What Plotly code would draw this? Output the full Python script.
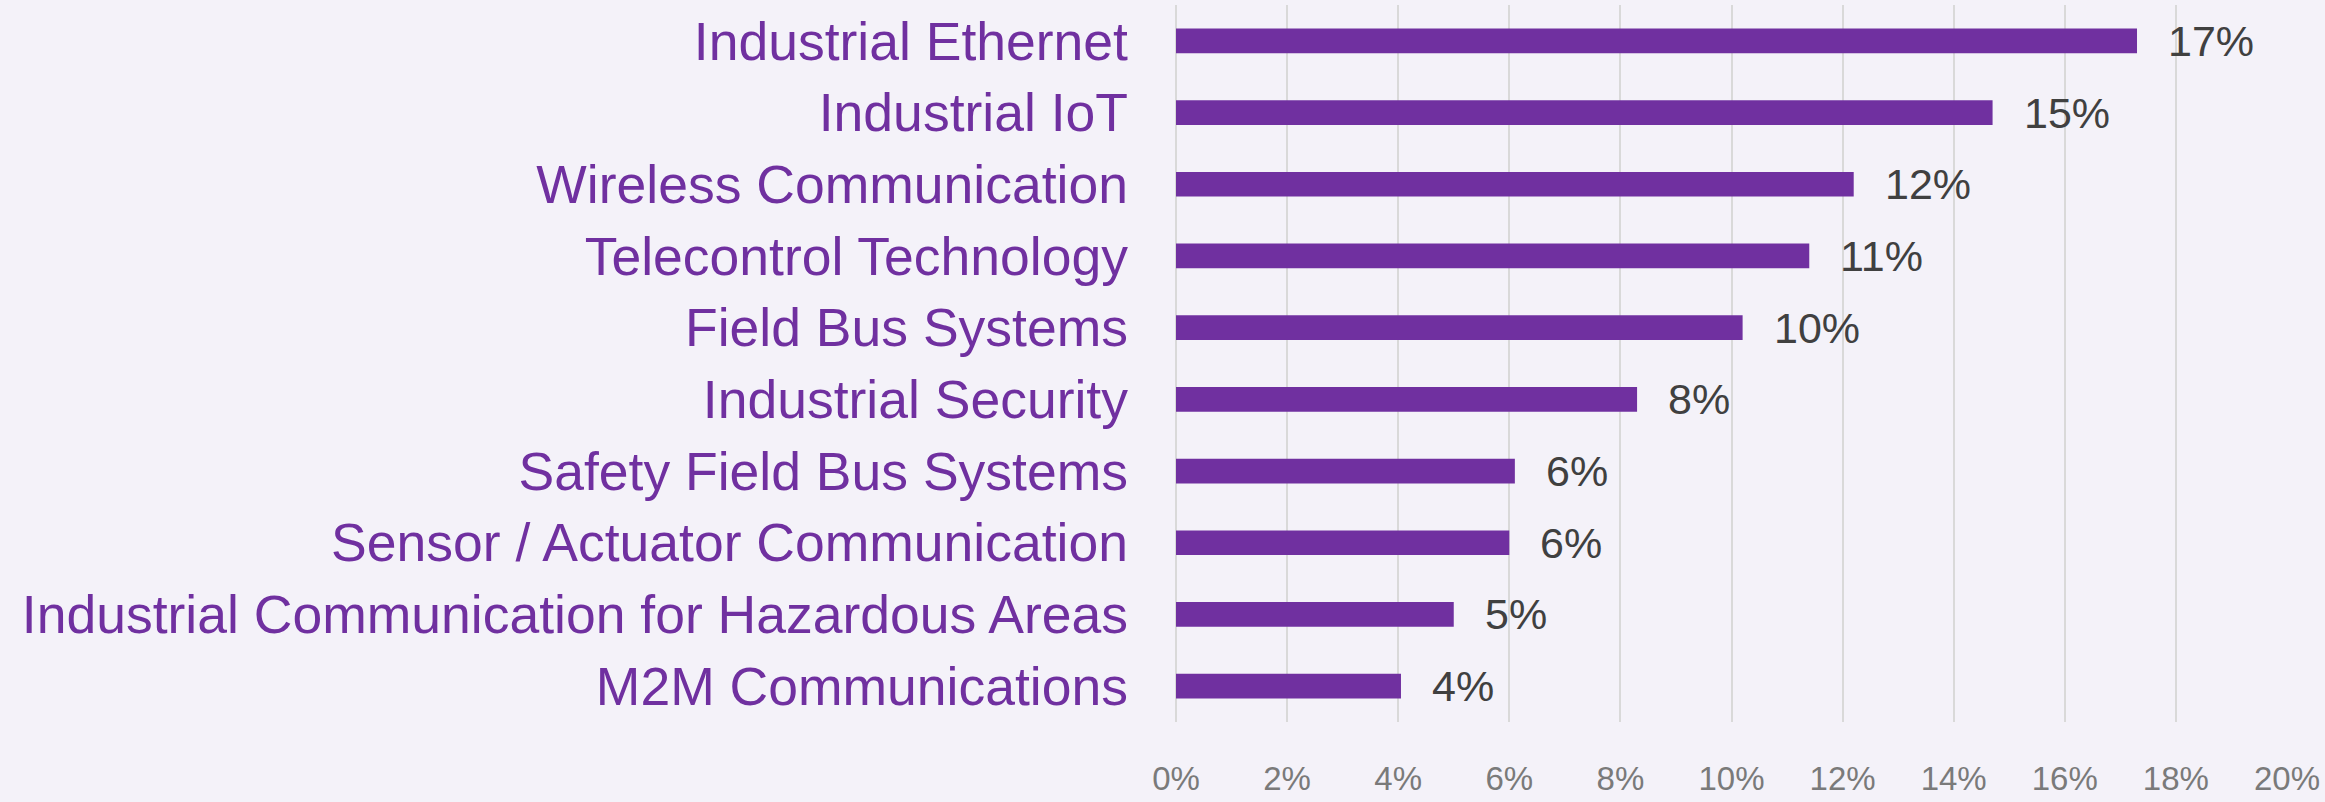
import plotly.graph_objects as go

categories = [
    "Industrial Ethernet",
    "Industrial IoT",
    "Wireless Communication",
    "Telecontrol Technology",
    "Field Bus Systems",
    "Industrial Security",
    "Safety Field Bus Systems",
    "Sensor / Actuator Communication",
    "Industrial Communication for Hazardous Areas",
    "M2M Communications",
]
shares = [0.173, 0.147, 0.122, 0.114, 0.102, 0.083, 0.061, 0.060, 0.050, 0.0405]
x_ticks = [0, 0.02, 0.04, 0.06, 0.08, 0.10, 0.12, 0.14, 0.16, 0.18, 0.20]
x_tick_labels = ["0%", "2%", "4%", "6%", "8%", "10%", "12%", "14%", "16%", "18%", "20%"]

PURPLE = "#7030A0"
BG = "#F4F2F9"
FONT = "Liberation Sans, Arial, sans-serif"

fig = go.Figure()
fig.add_trace(go.Bar(
    x=shares,
    y=categories,
    orientation="h",
    marker=dict(color=PURPLE, line=dict(width=0)),
    hoverinfo="skip",
))

for c, v in zip(categories, shares):
    fig.add_annotation(
        x=v, y=c, xref="x", yref="y",
        text=f"{round(v * 100)}%",
        showarrow=False, xanchor="left", yanchor="middle",
        xshift=29,
        font=dict(family=FONT, size=43, color="#404040"),
    )

fig.update_layout(
    width=2325, height=802,
    margin=dict(l=1176, r=38, t=5, b=70),
    paper_bgcolor=BG, plot_bgcolor=BG,
    bargap=0.656,
    showlegend=False,
    font=dict(family=FONT),
)
fig.update_xaxes(
    range=[0, 0.20],
    tickvals=x_ticks, ticktext=x_tick_labels,
    showgrid=True, gridcolor="#D9D9D9", gridwidth=2,
    zeroline=True, zerolinecolor="#D9D9D9", zerolinewidth=2,
    showline=False, ticks="",
    tickfont=dict(family=FONT, size=33, color="#7a7a7a"),
    ticklabelstandoff=34,
)
fig.update_yaxes(
    autorange="reversed",
    showgrid=False, zeroline=False, showline=False, ticks="",
    tickfont=dict(family=FONT, size=53.5, color=PURPLE),
    ticklabelstandoff=47,
)

fig.write_html(
    "out.html",
    config={"displayModeBar": False},
    post_script="document.body.style.margin='0';document.body.style.background='" + BG + "';",
)
